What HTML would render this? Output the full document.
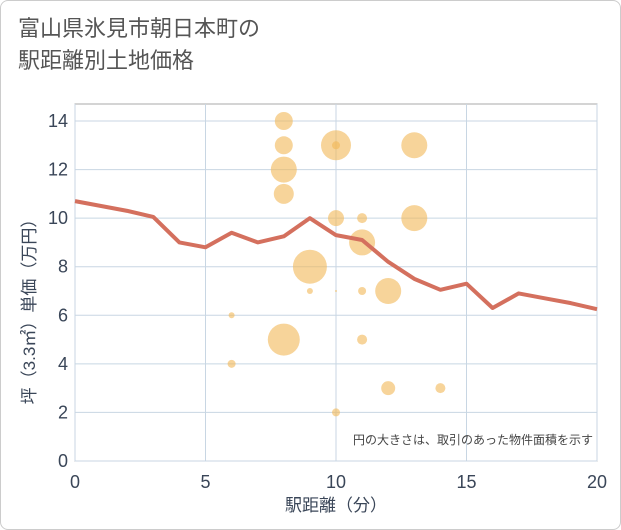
<!DOCTYPE html>
<html><head><meta charset="utf-8"><style>
body{margin:0;background:#fff;font-family:"Liberation Sans","Noto Sans CJK JP",sans-serif;}
#wrap{position:relative;width:619px;height:528px;border:1px solid #ccc;border-radius:8px;overflow:hidden;background:#fff}
#title{position:absolute;left:17px;top:12px;font-size:22px;line-height:32px;color:#555;font-family:"Liberation Sans","Noto Sans CJK JP",sans-serif}
svg{position:absolute;left:0;top:0}
</style></head><body>
<div id="wrap">
<div id="title">富山県氷見市朝日本町の<br>駅距離別土地価格</div>
<svg id="chart" width="621" height="530"></svg>
</div>
<script>
const xTicks=[0,5,10,15,20];
const yTicks=[0,2,4,6,8,10,12,14];
const lineX=[0,1,2,3,4,5,6,7,8,9,10,11,12,13,14,15,16,17,18,19,20];
const lineY=[10.7,10.5,10.3,10.05,9.0,8.8,9.4,9.0,9.25,10.0,9.3,9.1,8.2,7.5,7.05,7.3,6.3,6.9,6.7,6.5,6.25];
const bubX=[8,8,8,8,10,10,13,10,11,13,11,9,9,10,11,12,6,8,11,6,12,14,10];
const bubY=[14,13,12,11,13,13,13,10,10,10,9,8,7,7,7,7,6,5,5,4,3,3,2];
const bubR=[9,9,13,10,15,4,13,8,5,13,13,17,3,1,4,13,3,16,5,4,7,5,4];
const NS="http://www.w3.org/2000/svg";
const svg=document.getElementById('chart');
const X0=74,X1=596,Y0=460,Y1=103,YMAX=14.7;
const sx=v=>X0+(X1-X0)*v/20;
const sy=v=>Y0-(Y0-Y1)*v/YMAX;
function mk(t,a,p){const e=document.createElementNS(NS,t);for(const k in a)e.setAttribute(k,a[k]);(p||svg).appendChild(e);return e;}
const plot=mk('rect',{x:X0,y:Y1,width:X1-X0,height:Y0-Y1,fill:'#fff',stroke:'#aaa','stroke-width':1});


xTicks.forEach(v=>{
 const g=mk('line',{x1:sx(v),x2:sx(v),y1:Y1,y2:Y0,stroke:'#c8d6e3','stroke-width':1});
 
 
 const t=mk('text',{x:sx(v),y:487,'text-anchor':'middle','font-size':18,fill:'#3a4658'});
 t.textContent=v;
 
 
});
yTicks.forEach(v=>{
 const g=mk('line',{x1:X0,x2:X1,y1:sy(v),y2:sy(v),stroke:'#c8d6e3','stroke-width':1});
 
 
 const t=mk('text',{x:67,y:sy(v)+6,'text-anchor':'end','font-size':18,fill:'#3a4658'});
 t.textContent=v;
 
 
});
bubX.forEach((v,i)=>{
 const c=mk('circle',{cx:sx(v),cy:sy(bubY[i]),r:bubR[i],fill:'#f2b856','fill-opacity':0.6});
 
 
});
const pts=lineX.map((v,i)=>sx(v)+','+sy(lineY[i])).join(' ');
const pl=mk('polyline',{points:pts,fill:'none',stroke:'#d4705e','stroke-width':4,'stroke-linejoin':'round'});


const note=mk('text',{x:592,y:443,'text-anchor':'end','font-size':12,fill:'#444'});
note.textContent='円の大きさは、取引のあった物件面積を示す';


const xt=mk('text',{x:sx(10),y:510,'text-anchor':'middle','font-size':17,fill:'#3a4658'});
xt.textContent='駅距離（分）';


const yt=mk('text',{x:0,y:0,'text-anchor':'middle','font-size':17,fill:'#3a4658',transform:'translate(34,'+((Y0+Y1)/2+25)+') rotate(-90)'});
yt.textContent='坪（3.3㎡）単価（万円）';


</script>
</body></html>
